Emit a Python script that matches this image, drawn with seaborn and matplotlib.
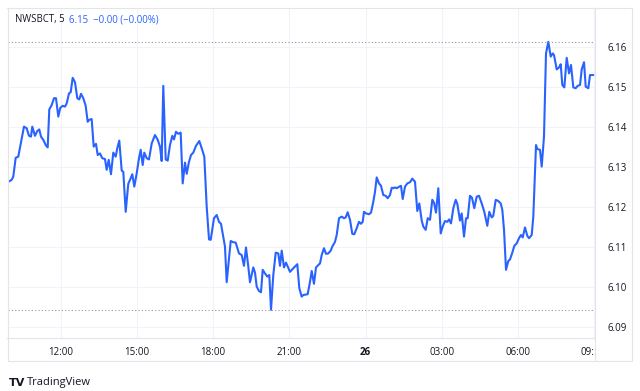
import matplotlib
matplotlib.use("Agg")
import matplotlib.pyplot as plt
from matplotlib.lines import Line2D
import seaborn as sns
import pandas as pd

symbol = "NWSBCT, 5"
last_text = "6.15  \u22120.00 (\u22120.00%)"

# hours since 00:00 of day 25 (26 = 24h)
hours = [9.937,10.071,10.134,10.228,10.331,10.555,10.661,10.752,10.831,10.882,10.988,11.079,11.157,11.224,11.315,11.409,11.488,11.551,11.646,11.736,11.815,11.906,11.984,12.079,12.169,12.236,12.327,12.394,12.472,12.563,12.654,12.732,12.799,12.890,12.984,13.063,13.126,13.220,13.299,13.390,13.457,13.547,13.638,13.744,13.811,13.890,13.980,14.071,14.165,14.228,14.307,14.402,14.465,14.559,14.661,14.756,14.819,14.898,14.992,15.083,15.150,15.228,15.291,15.386,15.476,15.583,15.713,15.819,15.909,15.976,16.039,16.134,16.213,16.303,16.394,16.461,16.539,16.630,16.724,16.803,16.894,16.961,17.051,17.130,17.220,17.327,17.457,17.551,17.654,17.748,17.839,17.906,18.035,18.142,18.232,18.311,18.468,18.535,18.693,18.795,18.890,19.020,19.126,19.216,19.295,19.386,19.453,19.583,19.650,19.717,19.807,19.886,19.953,20.043,20.134,20.213,20.280,20.370,20.465,20.567,20.634,20.701,20.791,20.870,20.937,21.028,21.158,21.315,21.394,21.488,21.551,21.724,21.815,21.882,21.972,22.051,22.142,22.209,22.276,22.366,22.445,22.535,22.630,22.693,22.799,22.866,22.957,23.063,23.154,23.220,23.299,23.390,23.480,23.559,23.654,23.744,23.823,23.890,23.941,24.020,24.138,24.217,24.307,24.374,24.441,24.531,24.610,24.701,24.795,24.874,24.964,25.031,25.094,25.161,25.228,25.331,25.398,25.465,25.555,25.646,25.752,25.843,25.949,26.039,26.118,26.213,26.276,26.370,26.449,26.540,26.630,26.697,26.776,26.866,26.961,27.039,27.130,27.220,27.287,27.366,27.457,27.551,27.614,27.720,27.787,27.878,27.957,28.024,28.114,28.193,28.283,28.378,28.469,28.575,28.677,28.795,28.874,28.968,29.031,29.126,29.228,29.323,29.386,29.453,29.532,29.622,29.689,29.780,29.858,29.953,30.043,30.122,30.189,30.280,30.370,30.437,30.543,30.606,30.713,30.764,30.870,30.937,31.027,31.106,31.197,31.291,31.370,31.421,31.528,31.618,31.685,31.748,31.827,31.921,32.012,32.091,32.181,32.276,32.354,32.445,32.512,32.603,32.669,32.771,32.839,32.969]

prices = [6.1263,6.1268,6.1276,6.1323,6.1326,6.1401,6.1397,6.1378,6.1376,6.1401,
6.1378,6.1390,6.1394,6.1376,6.1368,6.1355,6.1349,6.1444,6.1455,6.1472,
6.1472,6.1426,6.1448,6.1453,6.1451,6.1459,6.1484,6.1487,6.1523,6.1512,
6.1472,6.1469,6.1483,6.1472,6.1453,6.1413,6.1418,6.1420,6.1351,6.1358,
6.1330,6.1334,6.1322,6.1320,6.1293,6.1318,6.1282,6.1336,6.1326,6.1347,
6.1366,6.1291,6.1288,6.1188,6.1258,6.1272,6.1282,6.1251,6.1284,6.1322,
6.1343,6.1305,6.1336,6.1322,6.1319,6.1359,6.1380,6.1368,6.1351,6.1315,
6.1503,6.1319,6.1316,6.1355,6.1378,6.1369,6.1388,6.1383,6.1386,6.1259,
6.1311,6.1283,6.1313,6.1330,6.1336,6.1353,6.1365,6.1347,6.1326,6.1201,
6.1119,6.1118,6.1172,6.1180,6.1163,6.1158,6.1101,6.1012,6.1115,6.1112,
6.1111,6.1084,6.1080,6.1053,6.1099,6.1051,6.1012,6.1049,6.1036,6.1001,
6.0990,6.0987,6.1043,6.1034,6.1026,6.1030,6.0943,6.1030,6.1086,6.1084,
6.1053,6.1091,6.1049,6.1061,6.1051,6.1038,6.1047,6.1057,6.0997,6.0976,
6.0980,6.0982,6.1013,6.1040,6.1008,6.1049,6.1055,6.1059,6.1080,6.1097,
6.1083,6.1084,6.1091,6.1101,6.1113,6.1130,6.1172,6.1176,6.1172,6.1174,
6.1187,6.1168,6.1133,6.1132,6.1147,6.1163,6.1158,6.1163,6.1188,6.1184,
6.1182,6.1186,6.1213,6.1238,6.1274,6.1259,6.1253,6.1230,6.1228,6.1222,
6.1230,6.1248,6.1247,6.1249,6.1247,6.1251,6.1253,6.1220,6.1251,6.1259,
6.1262,6.1271,6.1263,6.1190,6.1209,6.1166,6.1151,6.1143,6.1172,6.1168,
6.1218,6.1211,6.1186,6.1247,6.1134,6.1151,6.1165,6.1163,6.1169,6.1159,
6.1197,6.1218,6.1208,6.1166,6.1184,6.1126,6.1172,6.1172,6.1228,6.1223,
6.1197,6.1226,6.1228,6.1209,6.1188,6.1153,6.1188,6.1174,6.1178,6.1218,
6.1215,6.1209,6.1193,6.1143,6.1043,6.1065,6.1069,6.1086,6.1103,6.1109,
6.1122,6.1130,6.1124,6.1149,6.1128,6.1122,6.1130,6.1176,6.1355,6.1345,
6.1343,6.1301,6.1376,6.1584,6.1613,6.1576,6.1584,6.1580,6.1544,6.1549,
6.1557,6.1505,6.1499,6.1573,6.1534,6.1555,6.1499,6.1497,6.1503,6.1505,
6.1544,6.1562,6.1501,6.1497,6.1530,6.1530]

x_ticks = [12, 15, 18, 21, 24, 27, 30, 33]
x_labels = ["12:00", "15:00", "18:00", "21:00", "26", "03:00", "06:00", "09:"]
y_ticks = [6.09, 6.10, 6.11, 6.12, 6.13, 6.14, 6.15, 6.16]

df = pd.DataFrame({"hour": hours, "price": prices})

sns.set_theme(style="white")
plt.rcParams["font.family"] = ["Open Sans", "DejaVu Sans"]

W, H = 640, 391
fig = plt.figure(figsize=(6.4, 3.91), dpi=100)
L, R, T, B = 7.5, 595, 8.3, 338.3
ax = fig.add_axes([L / W, 1 - B / H, (R - L) / W, (B - T) / H])

BLUE = "#2962ff"
TXT = "#131722"
GRID = "#f0f3fa"
BORDER = "#e3e5ea"

sns.lineplot(data=df, x="hour", y="price", ax=ax, color=BLUE, linewidth=1.5)

ax.set_xlim(9.906, 33.035)
ax.set_ylim(6.08718, 6.16968)
ax.set_xlabel("")
ax.set_ylabel("")

ax.set_xticks(x_ticks)
ax.set_xticklabels(x_labels)
ax.set_yticks(y_ticks)
ax.set_yticklabels([f"{v:.2f}" for v in y_ticks])
ax.yaxis.tick_right()
ax.tick_params(axis="y", length=0, pad=9, labelsize=7, labelcolor=TXT)
ax.tick_params(axis="x", length=0, pad=6.5, labelsize=7, labelcolor=TXT)
for lbl in ax.get_xticklabels():
    if lbl.get_text() == "26":
        lbl.set_fontweight("bold")
    if lbl.get_text() == "09:":
        lbl.set_ha("right")

ax.grid(True, color=GRID, linewidth=0.8)
ax.set_axisbelow(True)
for s in ax.spines.values():
    s.set_color(BORDER)
    s.set_linewidth(0.8)

# high / low dotted lines
ax.axhline(max(prices), color="#9598a1", linestyle=(0, (1, 2)), linewidth=0.8)
ax.axhline(min(prices), color="#9598a1", linestyle=(0, (1, 2)), linewidth=0.8)

# outer frame of price scale and time scale
def fline(x0, y0, x1, y1):
    fig.add_artist(Line2D([x0 / W, x1 / W], [1 - y0 / H, 1 - y1 / H],
                          color=BORDER, linewidth=0.8))

fline(R, T, 632, T)
fline(632, T, 632, 360.7)
fline(L, 360.7, 632, 360.7)
fline(L, B, L, 360.7)
fline(R, B, R, 360.7)

# header
fig.text(15 / W, 1 - 19.5 / H, symbol, color=TXT, fontsize=6.9, va="center", ha="left")
fig.text(69 / W, 1 - 19.5 / H, last_text, color=BLUE, fontsize=6.9, va="center", ha="left")

# branding
fig.text(9 / W, 1 - 383 / H, "TV", color=TXT, fontsize=8, fontweight="black",
         va="center", ha="left", family=["DejaVu Sans"])
fig.text(27 / W, 1 - 383 / H, "TradingView", color=TXT, fontsize=8,
         va="center", ha="left")

fig.savefig("out.png", dpi=100, facecolor="white")
